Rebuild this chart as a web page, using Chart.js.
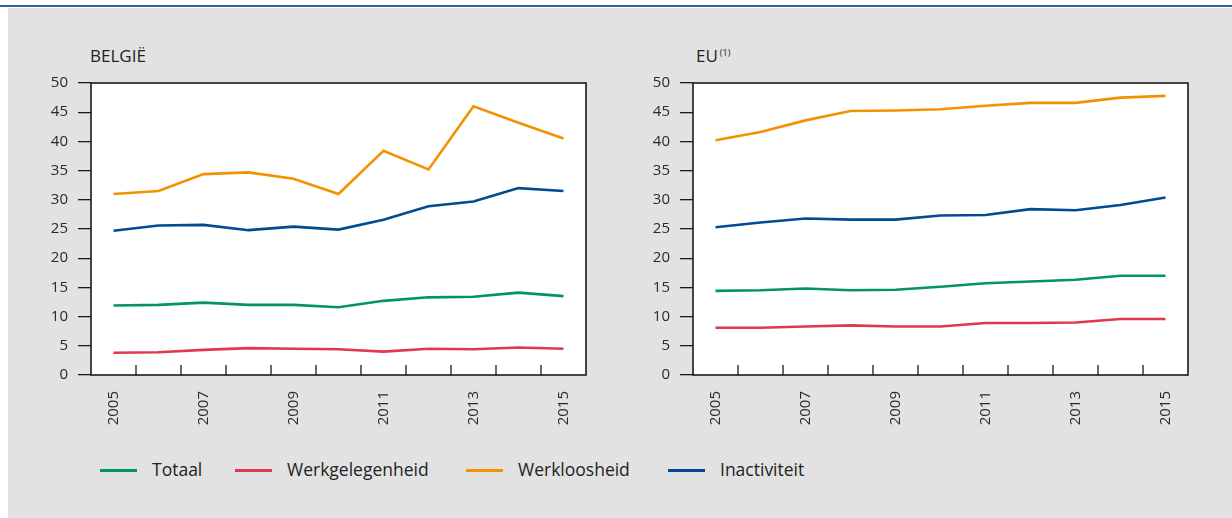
<!DOCTYPE html>
<html>
<head>
<meta charset="utf-8">
<script src="https://cdn.jsdelivr.net/npm/chart.js@4.4.1/dist/chart.umd.min.js"></script>
<style>
html,body{margin:0;padding:0;background:#fff;}
body{width:1232px;height:518px;position:relative;overflow:hidden;font-family:"Open Sans",sans-serif;color:#222;}
#topline{position:absolute;left:0;top:5px;width:1232px;height:2px;background:#2f5f9e;}
#panel{position:absolute;left:8px;top:8px;width:1224px;height:510px;background:#e2e2e2;}
canvas{position:absolute;}
.title{position:absolute;font-size:17px;line-height:20px;white-space:nowrap;}
.title sup{font-size:9px;vertical-align:top;position:relative;top:-3px;margin-left:2px;}
.legline{position:absolute;height:3px;width:37px;}
.legtext{position:absolute;font-size:17.5px;line-height:20px;white-space:nowrap;color:#222;}
</style>
</head>
<body>
<div id="topline"></div>
<div id="panel"></div>
<div class="title" style="left:90px;top:46px;">BELGIË</div>
<div class="title" style="left:696px;top:46px;">EU<sup>(1)</sup></div>
<canvas id="c1" width="600" height="386" style="left:0;top:64px;"></canvas>
<canvas id="c2" width="600" height="386" style="left:602px;top:64px;"></canvas>
<div id="legend"></div>
<script>
// ---- data ----
const years = ['2005','2006','2007','2008','2009','2010','2011','2012','2013','2014','2015'];
const shownYears = ['2005','2007','2009','2011','2013','2015'];
const yTicks = [0,5,10,15,20,25,30,35,40,45,50];
const seriesNames = ['Totaal','Werkgelegenheid','Werkloosheid','Inactiviteit'];
const seriesColors = ['#00936c','#e0394f','#f39200','#004b91'];

const beTotaal          = [11.9,12.0,12.4,12.0,12.0,11.6,12.7,13.3,13.4,14.1,13.5];
const beWerkgelegenheid = [3.8,3.9,4.3,4.6,4.5,4.4,4.0,4.5,4.4,4.7,4.5];
const beWerkloosheid    = [31.0,31.5,34.4,34.7,33.6,31.0,38.4,35.2,46.0,43.2,40.5];
const beInactiviteit    = [24.7,25.6,25.7,24.8,25.4,24.9,26.6,28.9,29.7,32.0,31.5];

const euTotaal          = [14.4,14.5,14.8,14.5,14.6,15.1,15.7,16.0,16.3,17.0,17.0];
const euWerkgelegenheid = [8.1,8.1,8.3,8.5,8.3,8.3,8.9,8.9,9.0,9.6,9.6];
const euWerkloosheid    = [40.2,41.6,43.6,45.2,45.3,45.5,46.1,46.6,46.6,47.5,47.8];
const euInactiviteit    = [25.3,26.1,26.8,26.6,26.6,27.3,27.4,28.4,28.2,29.1,30.4];

// ---- legend (HTML) ----
const legendX = [100,235,466,668];
const legendTextGap = 52;
const legend = document.getElementById('legend');
seriesNames.forEach((n,i)=>{
  const l = document.createElement('div');
  l.className='legline'; l.style.left=legendX[i]+'px'; l.style.top='469px'; l.style.background=seriesColors[i];
  legend.appendChild(l);
  const t = document.createElement('div');
  t.className='legtext'; t.style.left=(legendX[i]+legendTextGap)+'px'; t.style.top='459px'; t.textContent=n;
  legend.appendChild(t);
});

// ---- charts ----
Chart.defaults.font.family = "'Open Sans', sans-serif";
Chart.defaults.color = '#2a2a2a';

const framePlugin = {
  id:'frame',
  beforeDraw(chart){
    const {ctx, chartArea:a} = chart;
    ctx.save(); ctx.fillStyle='#ffffff';
    ctx.fillRect(a.left,a.top,a.right-a.left,a.bottom-a.top); ctx.restore();
  },
  afterDraw(chart){
    const {ctx, chartArea:a, scales:{x}} = chart;
    ctx.save();
    ctx.strokeStyle='#1a1a1a'; ctx.lineWidth=1.6;
    ctx.strokeRect(a.left,a.top,a.right-a.left,a.bottom-a.top);
    ctx.lineWidth=1.3;
    ctx.beginPath();
    for(let i=1;i<x.ticks.length;i++){
      const px = Math.round((x.getPixelForTick(i-1)+x.getPixelForTick(i))/2);
      ctx.moveTo(px, a.bottom); ctx.lineTo(px, a.bottom-10);
    }
    ctx.stroke(); ctx.restore();
  }
};

function makeChart(id, arrays){
  return new Chart(document.getElementById(id), {
    type:'line',
    data:{
      labels: years,
      datasets: seriesNames.map((n,i)=>({
        label:n, data:arrays[i], borderColor:seriesColors[i], backgroundColor:seriesColors[i],
        borderWidth:2.6, pointRadius:0, tension:0, fill:false
      }))
    },
    options:{
      responsive:false, animation:false, devicePixelRatio:1,
      layout:{padding:{top:12,right:14,left:0,bottom:0}},
      plugins:{legend:{display:false}, tooltip:{enabled:false}},
      scales:{
        x:{
          type:'category', offset:true,
          grid:{display:false}, border:{display:false},
          ticks:{autoSkip:false, minRotation:90, maxRotation:90, padding:8,
                 font:{size:15}, color:'#2a2a2a',
                 callback:(v,i)=> shownYears.includes(years[i]) ? years[i] : ''},
          afterFit:s=>{s.height=75;}
        },
        y:{
          min:yTicks[0], max:yTicks[yTicks.length-1],
          afterBuildTicks:s=>{s.ticks = yTicks.map(v=>({value:v}));},
          grid:{drawOnChartArea:false, drawTicks:true, tickLength:13, color:'#1a1a1a', lineWidth:1.3},
          border:{display:false},
          ticks:{padding:10, font:{size:15}, color:'#2a2a2a'},
          afterFit:s=>{s.width=91;}
        }
      }
    },
    plugins:[framePlugin]
  });
}

makeChart('c1',[beTotaal,beWerkgelegenheid,beWerkloosheid,beInactiviteit]);
makeChart('c2',[euTotaal,euWerkgelegenheid,euWerkloosheid,euInactiviteit]);
</script>
</body>
</html>
